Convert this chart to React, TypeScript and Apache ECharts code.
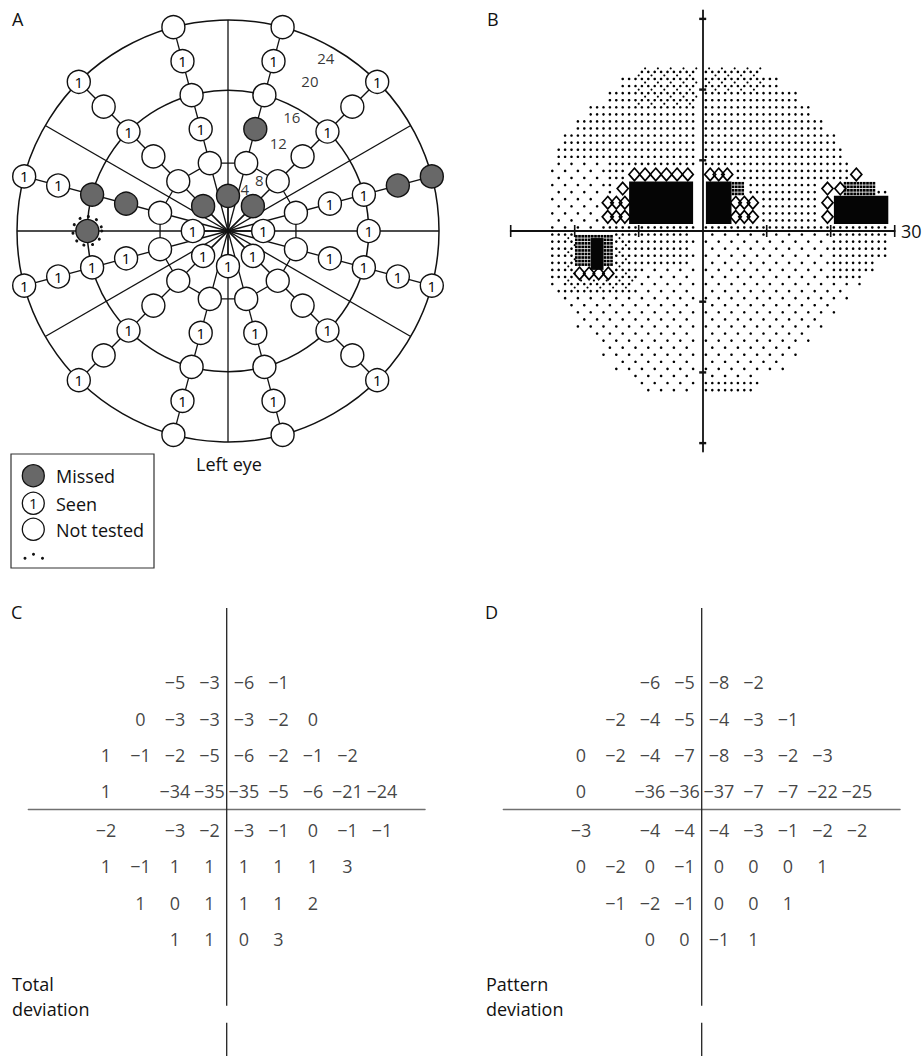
import React, { useEffect, useRef } from "react";
import * as echarts from "echarts";

const FONT = '"Open Sans", "Liberation Sans", sans-serif';
const INK = "#111";
const MISSED_FILL = "#686868";

// ---------------- Panel A (eccentricity in degrees, meridian in degrees) ----------------
const A_INNER_ANGLES = [0, 45, 90, 135, 180, 225, 270, 315];
const A_MERIDIANS = [15, 45, 75, 105, 135, 165, 195, 225, 255, 285, 315, 345];
const A_RING16_ANGLES = [0, 15, 45, 75, 105, 135, 165, 180, 195, 225, 255, 285, 315, 345];
// M = missed, S = seen (1), N = not tested, X = missed with dotted ring
const A_STATUS_4 = ["S", "M", "M", "M", "S", "S", "S", "S"];
const A_STATUS_8 = ["N", "N", "N", "N", "N", "N", "N", "N", "N", "N", "N", "N"];
const A_STATUS_12 = ["S", "N", "M", "S", "N", "M", "S", "N", "S", "S", "N", "S"];
const A_STATUS_16 = ["S", "S", "S", "N", "N", "S", "M", "X", "S", "S", "N", "N", "S", "S"];
const A_STATUS_20 = ["M", "N", "S", "S", "N", "S", "S", "N", "S", "S", "N", "S"];
const A_STATUS_24 = ["M", "S", "N", "N", "S", "S", "S", "S", "N", "N", "S", "S"];
const A_DIAMETERS = [0, 30, 90, 150];
const A_CIRCLES = [16, 24];
const A_SCALE_LABELS = ["4", "8", "12", "16", "20", "24"];
const A_SCALE_LABEL_R = [5.1, 6.8, 11.5, 14.9, 19.4, 22.6];
const A_SCALE_LABEL_ANGLE = [68, 58.5, 60.2, 60.9, 61.3, 60.5];
const A_LEGEND = ["Missed", "Seen", "Not tested"];

// ---------------- Panel B (grey scale, degrees) ----------------
const B_TICKS = [-30, -20, -10, 10, 20, 30];
const B_BAND_TOP = [24, 22, 20, 18, 16, 14, 12, 10, 8, 6, 4, 2, 0, -2, -4, -6, -8, -10, -12, -14, -16, -18, -20, -22];
const B_LEFT = [9.5, 12.5, 15, 17.5, 19.5, 21.5, 22.5, 23.5, 24, 24, 24, 24, 24, 24, 24, 24, 22.5, 21, 19.5, 17, 15.5, 14, 10.5, 8.5];
const B_RIGHT = [9, 12, 14.5, 16.5, 18.5, 20.5, 22, 23, 24.5, 29, 29, 29, 29, 29, 27, 25, 22.5, 21, 19, 16.5, 15, 12.5, 9, 8.5];
// rectangles [x0, x1, y0, y1]
const B_BLACK = [[-11.5, -1.5, 1, 7], [0.5, 4.5, 1, 7], [20.5, 29, 1, 5], [-17.5, -15.5, -5.5, -1]];
const B_GREY = [[4.5, 6.5, 5, 7], [22, 27, 5, 7], [-20, -14, -5, -0.7]];
const B_HATCH = [[-11.5, -1.5, 7, 9], [-15.5, -11.5, 1, 5], [-13.5, -11.5, 5, 7], [0.5, 4.5, 7, 9], [4.5, 8.5, 1, 5], [18.5, 20.5, 1, 7], [20.5, 22.5, 5, 7], [23, 25, 7, 9], [-20, -14, -7, -5]];
const B_DENSE = [[-11, -1, 17, 24], [0, 9, 19.5, 24], [-21.5, -11, -8.5, -7], [-22, -20.5, -7, -1], [-13.5, -12, -7, -1]];
const B_FULL_LOWER = [[-24, -10, -7, 0], [-13, -2, -4.5, 0], [20, 29, -6.5, 0], [0, 8, -23, -21]];
const B_SPARSE_UPPER = [[-24, -15.5, 0, 10]];

// ---------------- Panels C and D ----------------
const DEV_ROW_Y = [21, 15, 9, 3, -3, -9, -15, -21];
const DEV_ROW_X0 = [-9, -15, -21, -21, -21, -21, -15, -9];
const TOTAL_DEVIATION = [
  [-5, -3, -6, -1],
  [0, -3, -3, -3, -2, 0],
  [1, -1, -2, -5, -6, -2, -1, -2],
  [1, null, -34, -35, -35, -5, -6, -21, -24],
  [-2, null, -3, -2, -3, -1, 0, -1, -1],
  [1, -1, 1, 1, 1, 1, 1, 3],
  [1, 0, 1, 1, 1, 2],
  [1, 1, 0, 3],
];
const PATTERN_DEVIATION = [
  [-6, -5, -8, -2],
  [-2, -4, -5, -4, -3, -1],
  [0, -2, -4, -7, -8, -3, -2, -3],
  [0, null, -36, -36, -37, -7, -7, -22, -25],
  [-3, null, -4, -4, -4, -3, -1, -2, -2],
  [0, -2, 0, -1, 0, 0, 0, 1],
  [-1, -2, -1, 0, 0, 1],
  [0, 0, -1, 1],
];
const DEV_Y_MAX = 33.3;
const DEV_Y_MIN = -40.8;
const DEV_VSEGMENTS = [[33.3, -32.5], [-35.3, -40.8]];

// ---------------- helpers ----------------
type Pt = { r: number; a: number; s: string };
const A_POINTS: Pt[] = [
  ...A_INNER_ANGLES.map((a, i) => ({ r: 4, a, s: A_STATUS_4[i] })),
  ...A_MERIDIANS.map((a, i) => ({ r: 8, a, s: A_STATUS_8[i] })),
  ...A_MERIDIANS.map((a, i) => ({ r: 12, a, s: A_STATUS_12[i] })),
  ...A_RING16_ANGLES.map((a, i) => ({ r: 16, a, s: A_STATUS_16[i] })),
  ...A_MERIDIANS.map((a, i) => ({ r: 20, a, s: A_STATUS_20[i] })),
  ...A_MERIDIANS.map((a, i) => ({ r: 24, a, s: A_STATUS_24[i] })),
];
const byStatus = (codes: string[]) => A_POINTS.filter((p) => codes.includes(p.s)).map((p) => [p.r, p.a]);

const A_SEGMENTS = [
  ...A_DIAMETERS.map((a) => [24, a, 24, a + 180]),
  ...A_MERIDIANS.map((a) => [0, a, 24, a]),
  ...A_INNER_ANGLES.map((a) => [0, a, 4, a]),
  ...A_MERIDIANS.map((a) => [8, a, 8, (a + 30) % 360]),
];

const inRects = (rects: number[][], x: number, y: number, pad = 0) =>
  rects.some(([x0, x1, y0, y1]) => x >= x0 - pad && x <= x1 + pad && y >= y0 - pad && y <= y1 + pad);

function buildDots() {
  const dots: number[][] = [];
  const extra: number[][] = [];
  B_BAND_TOP.forEach((top, b) => {
    for (let k = 0; k < 2; k++) {
      const y = top - 0.5 - k;
      if (Math.abs(y) > 23) continue;
      for (let xi = -30; xi < 30; xi++) {
        const x = xi + 0.5;
        if (x < -B_LEFT[b] || x > B_RIGHT[b]) continue;
        if (x === -0.5) continue;
        if (inRects(B_BLACK, x, y, 0.3) || inRects(B_GREY, x, y, 0.3) || inRects(B_HATCH, x, y, 0.3)) continue;
        let checker: boolean;
        if (y > 0) checker = inRects(B_SPARSE_UPPER, x, y);
        else checker = !inRects(B_FULL_LOWER, x, y);
        const dense = inRects(B_DENSE, x, y);
        const parity = (xi + Math.round(y - 0.5)) % 2 === 0;
        if (!checker || parity || dense) dots.push([x, y]);
        if (dense && parity) extra.push([x + 0.5, y + 0.5]);
      }
    }
  });
  return { dots, extra };
}

function buildGrey() {
  const out: number[][] = [];
  B_GREY.forEach(([x0, x1, y0, y1]) => {
    for (let x = x0 + 0.25; x < x1; x += 0.5) for (let y = y0 + 0.25; y < y1; y += 0.5) out.push([x, y]);
  });
  return out;
}

function buildHatch() {
  const out: number[][] = [];
  B_HATCH.forEach(([x0, x1, y0, y1]) => {
    const nx = Math.max(1, Math.round((x1 - x0) / 1.6));
    const ny = Math.max(1, Math.round((y1 - y0) / 1.8));
    for (let i = 0; i < nx; i++)
      for (let j = 0; j < ny; j++)
        out.push([x0 + ((x1 - x0) / nx) * (i + 0.5), y0 + ((y1 - y0) / ny) * (j + 0.5)]);
  });
  return out;
}

const fmt = (v: number) => (v < 0 ? "\u2212" + Math.abs(v) : String(v));

function devData(rows: (number | null)[][]) {
  const out: any[] = [];
  rows.forEach((row, r) =>
    row.forEach((v, i) => {
      if (v === null) return;
      const y = DEV_ROW_Y[r];
      out.push({ value: [DEV_ROW_X0[r] + 6 * i, y], name: fmt(v), label: y < 0 ? { offset: [0, 2.5] } : undefined });
    })
  );
  return out;
}

const txt = (text: string, x: number, y: number, size = 18, align = "left", extra: any = {}) => ({
  type: "text",
  silent: true,
  style: {
    text,
    x,
    y,
    font: `${size}px ${FONT}`,
    fill: INK,
    textAlign: align,
    align,
    textVerticalAlign: "middle",
    verticalAlign: "middle",
    ...extra,
  },
});

export default function App() {
  const ref = useRef<HTMLDivElement>(null);
  useEffect(() => {
    document.body.style.margin = "0";
    if (!ref.current) return;
    const chart = echarts.init(ref.current, undefined, { renderer: "svg" });
    const { dots, extra } = buildDots();

    const hidden = { show: false };
    const plainAxis = (gi: number, min: number, max: number, lineShow: boolean, color = INK, width = 1.8) => ({
      type: "value",
      gridIndex: gi,
      min,
      max,
      axisLine: { show: lineShow, onZero: true, lineStyle: { color, width } },
      axisTick: hidden,
      axisLabel: hidden,
      splitLine: hidden,
    });

    const markerBase = {
      type: "scatter",
      coordinateSystem: "polar",
      polarIndex: 0,
      symbol: "circle",
      symbolSize: 23,
      silent: true,
      z: 5,
    };
    const devLabel = { show: true, position: "inside", formatter: "{b}", fontSize: 18, fontFamily: FONT, color: INK };
    const cart = (gi: number) => ({ type: "scatter", xAxisIndex: gi, yAxisIndex: gi, silent: true });

    const option: any = {
      animation: false,
      textStyle: { fontFamily: FONT },
      polar: { center: [228, 231], radius: 211 },
      angleAxis: {
        type: "value",
        min: 0,
        max: 360,
        startAngle: 0,
        clockwise: false,
        axisLine: hidden,
        axisTick: hidden,
        axisLabel: hidden,
        splitLine: hidden,
      },
      radiusAxis: { type: "value", min: 0, max: 24, axisLine: hidden, axisTick: hidden, axisLabel: hidden, splitLine: hidden },
      grid: [
        { left: 510.7, top: 10.4, width: 384, height: 441.2 },
        { left: 28.3, top: 608, width: 396.8, height: 448.3 },
        { left: 503.3, top: 608, width: 396.8, height: 448.3 },
      ],
      xAxis: [
        plainAxis(0, -30, 30, true, INK, 1.8),
        plainAxis(1, -34.5, 34.5, true, "#707070", 1.3),
        plainAxis(2, -34.5, 34.5, true, "#707070", 1.3),
      ],
      yAxis: [
        plainAxis(0, -31.2, 31.2, true, INK, 1.8),
        plainAxis(1, DEV_Y_MIN, DEV_Y_MAX, false),
        plainAxis(2, DEV_Y_MIN, DEV_Y_MAX, false),
      ],
      series: [
        // ---- Panel A
        {
          type: "custom",
          coordinateSystem: "polar",
          silent: true,
          z: 1,
          data: A_CIRCLES.map((r) => [r, 0]),
          renderItem: (params: any, api: any) => {
            const c = api.coord([0, 0]);
            const p = api.coord([api.value(0), 0]);
            return {
              type: "circle",
              shape: { cx: c[0], cy: c[1], r: Math.hypot(p[0] - c[0], p[1] - c[1]) },
              style: { fill: "none", stroke: INK, lineWidth: 1.5 },
            };
          },
        },
        {
          type: "custom",
          coordinateSystem: "polar",
          silent: true,
          z: 2,
          data: A_SEGMENTS,
          renderItem: (params: any, api: any) => {
            const p1 = api.coord([api.value(0), api.value(1)]);
            const p2 = api.coord([api.value(2), api.value(3)]);
            return {
              type: "line",
              shape: { x1: p1[0], y1: p1[1], x2: p2[0], y2: p2[1] },
              style: { stroke: INK, lineWidth: 1.3 },
            };
          },
        },
        { ...markerBase, name: "Not tested", data: byStatus(["N"]), itemStyle: { color: "#fff", opacity: 1, borderColor: INK, borderWidth: 1.4 } },
        {
          ...markerBase,
          name: "Seen",
          data: byStatus(["S"]),
          itemStyle: { color: "#fff", opacity: 1, borderColor: INK, borderWidth: 1.4 },
          label: { show: true, position: "inside", formatter: "1", fontSize: 15, fontFamily: FONT, color: "#000" },
        },
        { ...markerBase, name: "Missed", data: byStatus(["M", "X"]), itemStyle: { color: MISSED_FILL, opacity: 1, borderColor: INK, borderWidth: 1.4 } },
        {
          ...markerBase,
          name: "Dotted",
          z: 6,
          symbolSize: 29,
          data: byStatus(["X"]),
          itemStyle: { color: "rgba(0,0,0,0)", opacity: 1, borderColor: INK, borderWidth: 3, borderType: [0.1, 8.5], borderCap: "round" },
        },
        {
          type: "scatter",
          coordinateSystem: "polar",
          silent: true,
          z: 7,
          symbolSize: 1,
          itemStyle: { color: "rgba(0,0,0,0)" },
          data: A_SCALE_LABELS.map((t, i) => ({ value: [A_SCALE_LABEL_R[i], A_SCALE_LABEL_ANGLE[i]], name: t })),
          label: { show: true, position: "inside", formatter: "{b}", fontSize: 15, fontFamily: FONT, color: "#000" },
        },
        // ---- Panel B
        { ...cart(0), z: 2, symbol: "circle", symbolSize: 2.6, itemStyle: { color: "#000", opacity: 1 }, data: dots },
        { ...cart(0), z: 2, symbol: "circle", symbolSize: 2.1, itemStyle: { color: "#000", opacity: 1 }, data: extra },
        { ...cart(0), z: 3, symbol: "rect", symbolSize: 2.7, itemStyle: { color: "#000", opacity: 1 }, data: buildGrey() },
        {
          ...cart(0),
          z: 3,
          symbol: "diamond",
          symbolSize: [11, 12.5],
          itemStyle: { color: "rgba(0,0,0,0)", opacity: 1, borderColor: "#000", borderWidth: 1.7 },
          data: buildHatch(),
        },
        {
          type: "custom",
          xAxisIndex: 0,
          yAxisIndex: 0,
          silent: true,
          z: 4,
          data: B_BLACK,
          renderItem: (params: any, api: any) => {
            const p1 = api.coord([api.value(0), api.value(3)]);
            const p2 = api.coord([api.value(1), api.value(2)]);
            return {
              type: "rect",
              shape: { x: p1[0], y: p1[1], width: p2[0] - p1[0], height: p2[1] - p1[1] },
              style: { fill: "#050505" },
            };
          },
        },
        { ...cart(0), z: 5, symbol: "rect", symbolSize: [1.6, 12], itemStyle: { color: INK, opacity: 1 }, data: B_TICKS.map((v) => [v, 0]) },
        { ...cart(0), z: 5, symbol: "rect", symbolSize: [7, 2.4], itemStyle: { color: INK, opacity: 1 }, data: B_TICKS.map((v) => [0, v]) },
        // ---- Panels C and D
        ...[1, 2].map((gi) => ({
          type: "custom",
          xAxisIndex: gi,
          yAxisIndex: gi,
          silent: true,
          z: 2,
          data: DEV_VSEGMENTS,
          renderItem: (params: any, api: any) => {
            const p1 = api.coord([0, api.value(0)]);
            const p2 = api.coord([0, api.value(1)]);
            return {
              type: "line",
              shape: { x1: p1[0], y1: p1[1], x2: p2[0], y2: p2[1] },
              style: { stroke: "#222", lineWidth: 1.3 },
            };
          },
        })),
        { ...cart(1), z: 3, symbolSize: 1, itemStyle: { color: "rgba(0,0,0,0)" }, label: devLabel, data: devData(TOTAL_DEVIATION) },
        { ...cart(2), z: 3, symbolSize: 1, itemStyle: { color: "rgba(0,0,0,0)" }, label: devLabel, data: devData(PATTERN_DEVIATION) },
      ],
      graphic: [
        txt("A", 12, 19),
        txt("B", 487, 19),
        txt("C", 11, 612),
        txt("D", 485, 612),
        txt("30", 901, 231),
        txt("Left eye", 229, 464, 18, "center"),
        txt("Total", 12, 984),
        txt("deviation", 12, 1008.5),
        txt("Pattern", 486, 984),
        txt("deviation", 486, 1008.5),
        {
          type: "rect",
          silent: true,
          shape: { x: 11, y: 454, width: 143, height: 114 },
          style: { fill: "none", stroke: "#333", lineWidth: 1.2 },
        },
        { type: "circle", silent: true, shape: { cx: 33.3, cy: 475.7, r: 11 }, style: { fill: MISSED_FILL, stroke: INK, lineWidth: 1.3 } },
        { type: "circle", silent: true, shape: { cx: 33.3, cy: 503.3, r: 11 }, style: { fill: "#fff", stroke: INK, lineWidth: 1.3 } },
        txt("1", 33.3, 503.3, 15, "center"),
        { type: "circle", silent: true, shape: { cx: 33.3, cy: 529.3, r: 11 }, style: { fill: "#fff", stroke: INK, lineWidth: 1.3 } },
        { type: "circle", silent: true, shape: { cx: 25, cy: 558.3, r: 1.5 }, style: { fill: INK } },
        { type: "circle", silent: true, shape: { cx: 33.5, cy: 554.3, r: 1.5 }, style: { fill: INK } },
        { type: "circle", silent: true, shape: { cx: 42.5, cy: 558.3, r: 1.5 }, style: { fill: INK } },
        ...A_LEGEND.map((t, i) => txt(t, 56, [475.7, 503.8, 529.5][i], 18)),
      ],
    };
    chart.setOption(option);
    return () => chart.dispose();
  }, []);
  return <div ref={ref} style={{ width: 922, height: 1056 }} />;
}
